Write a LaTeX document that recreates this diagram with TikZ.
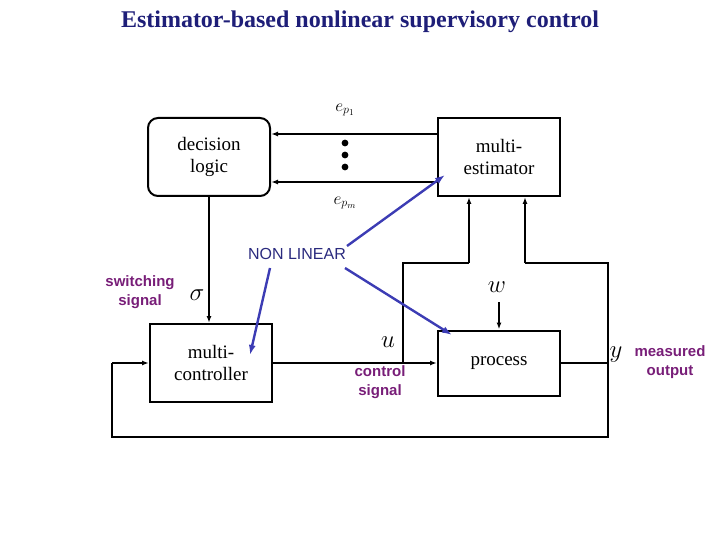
\documentclass[tikz,border=0pt]{standalone}
\usepackage{fontspec}
\setmainfont{Liberation Serif}
\newfontfamily\sansf{Liberation Sans}
\usetikzlibrary{arrows.meta}
\definecolor{titleblue}{RGB}{30,30,120}
\definecolor{sigpurple}{RGB}{120,30,120}
\definecolor{ptrblue}{RGB}{60,60,180}
\begin{document}
\begin{tikzpicture}[x=1pt,y=-1pt,
    blk/.style={draw,line width=2pt,minimum width=122pt,minimum height=78pt,align=center,font=\fontsize{19}{22}\selectfont},
    sig/.style={->,>={Latex[length=7pt,width=5pt]},line width=1.5pt},
    lab/.style={text=sigpurple,font=\sansf\bfseries\fontsize{15}{19}\selectfont,align=center},
    mlab/.style={font=\fontsize{24}{26}\selectfont},
    ptr/.style={->,>={Latex[length=10pt,width=7pt]},ptrblue,line width=2.4pt}]
    \useasboundingbox (0,0) rectangle (720,540);
    % Title
    \node[titleblue,font=\bfseries\fontsize{24}{27}\selectfont] (title) at (360,22) {Estimator-based nonlinear supervisory control};
    % Blocks
    \node[blk,rounded corners=10pt] (logic) at (209,157) {decision\\logic};
    \node[blk] (est) at (499,157) {multi-\\estimator};
    \node[blk] (ctrl) at (211,363) {multi-\\controller};
    \node[blk,minimum height=65pt] (proc) at (499,363) {process};
    % Estimation errors
    \draw[sig] (est.west|-0,134) -- (logic.east|-0,134);
    \draw[sig] (est.west|-0,182) -- (logic.east|-0,182);
    \foreach \y in {143,155,167}
        \fill (345,\y) circle (3.4pt);
    \node[font=\fontsize{18}{20}\selectfont] (ep1) at (345,110) {$e_{p_1}$};
    \node[font=\fontsize{18}{20}\selectfont] (epm) at (345,203) {$e_{p_m}$};
    % Switching signal
    \draw[sig] (logic.south) -- (ctrl.north-|logic.south);
    \node[mlab] (sigma) at (197,295) {$\sigma$};
    \node[lab] (swlab) at (140,292) {switching\\signal};
    % Control signal
    \coordinate (ubr) at (403,363);
    \draw[sig] (ctrl.east) -- (proc.west);
    \draw[line width=1.5pt] (ubr) -- (403,263) -- (469,263) coordinate (ec1);
    \draw[sig] (ec1) -- (est.south-|ec1);
    \node[mlab] (u) at (388,342) {$u$};
    \node[lab] (ulab) at (380,382) {control\\signal};
    % Disturbance
    \coordinate (win) at (499,302);
    \draw[sig,line width=2pt] (win) -- (proc.north);
    \node[mlab] (w) at (497,287) {$w$};
    % Measured output and feedback
    \coordinate (ybr) at (608,363);
    \draw[line width=1.5pt] (proc.east) -- (ybr) -- (608,263) -- (525,263) coordinate (ec2);
    \draw[sig] (ec2) -- (est.south-|ec2);
    \draw[line width=2pt] (ybr) -- (608,437) -- (112,437) -- (112,363) coordinate (fb);
    \draw[sig] (fb) -- (ctrl.west);
    \node[mlab] (y) at (616,355) {$y$};
    \node[lab] (ylab) at (670,362) {measured\\output};
    % Nonlinear pointers
    \node[ptrblue!70!black,font=\sansf\fontsize{16}{18}\selectfont] (nl) at (297,254) {NON LINEAR};
    \draw[ptr] (347,246) -- (445,175);
    \draw[ptr] (270,268) -- (250,355);
    \draw[ptr] (345,268) -- (452,335);
\end{tikzpicture}
\end{document}
